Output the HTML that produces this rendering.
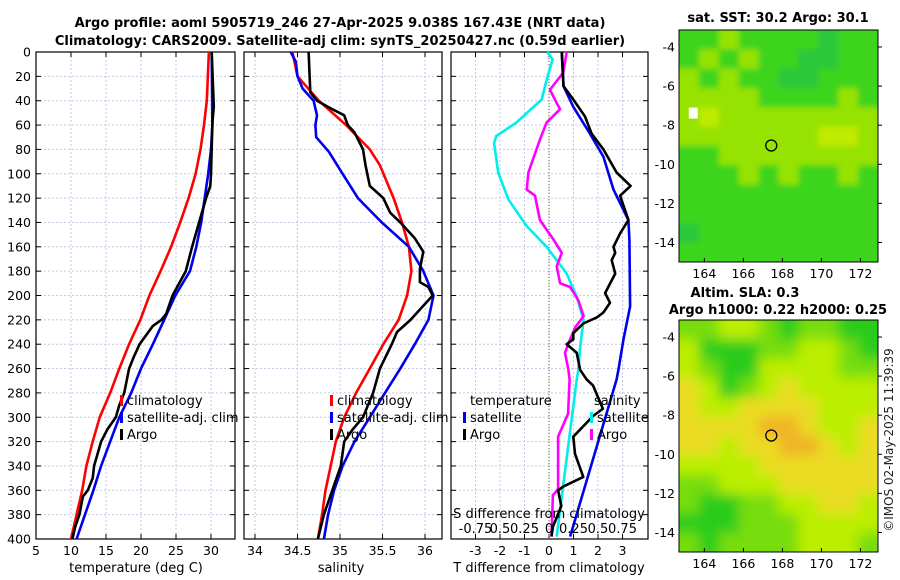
<!DOCTYPE html>
<html><head><meta charset="utf-8"><style>
body{margin:0;background:#fff}
svg{display:block;font-family:"DejaVu Sans","Liberation Sans",sans-serif}
</style></head><body>
<svg id="fig" width="900" height="580" viewBox="0 0 900 580" xmlns="http://www.w3.org/2000/svg">
<text x="340" y="27" text-anchor="middle" font-size="13" font-weight="bold">Argo profile: aoml 5905719_246 27-Apr-2025 9.038S 167.43E (NRT data)</text>
<text x="340" y="45" text-anchor="middle" font-size="13" font-weight="bold">Climatology: CARS2009. Satellite-adj clim: synTS_20250427.nc (0.59d earlier)</text>
<text x="778" y="22" text-anchor="middle" font-size="13" font-weight="bold">sat. SST: 30.2 Argo: 30.1</text>
<text x="745" y="297" text-anchor="middle" font-size="13" font-weight="bold">Altim. SLA: 0.3</text>
<text x="778" y="314" text-anchor="middle" font-size="13" font-weight="bold">Argo h1000: 0.22 h2000: 0.25</text>
<text transform="translate(893,440) rotate(-90)" text-anchor="middle" font-size="12" fill="#222">©IMOS 02-May-2025 11:39:39</text>
<g id="layer"></g>
</svg>
<script>
// ---------- data ----------
const depthTicks = [0,20,40,60,80,100,120,140,160,180,200,220,240,260,280,300,320,340,360,380,400];
const tTicks = [5,10,15,20,25,30];
const sTicks = [34,34.5,35,35.5,36];
const sTickLabels = ["34","34.5","35","35.5","36"];
const dTicks = [-3,-2,-1,0,1,2,3];
const sdTickLabels = ["-0.75","0.5","0.25","0","0.25","0.5","0.75"];

const tClimP = [0,40,60,80,100,120,140,160,180,200,220,240,260,280,300,320,340,360,380,400];
const tClimV = [29.7,29.4,29.0,28.5,27.8,26.8,25.6,24.3,22.8,21.2,19.9,18.3,16.9,15.6,14.1,13.1,12.2,11.6,10.8,10.0];
const tSatP = [0,60,80,100,120,140,160,180,200,220,240,260,280,300,320,340,360,380,400];
const tSatV = [30.1,30.2,30.0,29.6,29.1,28.6,27.9,27.0,24.9,23.3,21.7,20.0,18.6,16.9,15.6,14.3,13.2,12.0,10.8];
const tArgoP = [0,45,58,100,110,120,140,160,180,200,215,220,225,240,250,260,280,290,300,310,320,340,350,360,365,380,390,400];
const tArgoV = [30.1,30.4,30.2,30.0,29.9,29.3,28.3,27.3,26.4,24.5,23.6,22.9,21.7,19.8,19.0,18.3,17.6,16.9,16.4,15.2,14.3,13.3,13.1,12.4,11.7,11.2,10.6,10.2];

const sClimP = [0,20,40,60,80,93,120,140,160,180,200,220,240,260,280,300,320,340,360,380,400];
const sClimV = [34.44,34.50,34.75,35.07,35.35,35.47,35.63,35.73,35.81,35.84,35.79,35.69,35.51,35.35,35.19,35.05,34.95,34.89,34.83,34.79,34.74];
const sSatP = [0,8,20,30,40,52,60,70,82,100,120,140,160,180,200,220,240,260,280,300,320,340,360,380,400];
const sSatV = [34.42,34.48,34.50,34.56,34.69,34.73,34.71,34.72,34.87,35.03,35.21,35.49,35.81,35.98,36.10,36.04,35.88,35.71,35.53,35.35,35.17,35.03,34.93,34.86,34.81];
const sArgoP = [0,33,40,47,52,60,66,80,93,110,120,132,140,153,164,178,189,193,200,220,230,240,260,280,300,310,320,340,360,370,380,400];
const sArgoV = [34.63,34.65,34.73,34.91,35.05,35.09,35.17,35.27,35.30,35.35,35.51,35.59,35.71,35.88,35.98,35.94,35.94,36.04,36.09,35.83,35.67,35.61,35.47,35.39,35.27,35.15,35.05,35.01,34.91,34.86,34.81,34.74];

const dTSatP = [0,28,45,67,86,113,138,154,209,236,261,269,398];
const dTSatV = [0.52,0.59,0.99,1.67,2.22,2.63,3.24,3.28,3.31,3.04,2.83,2.76,0.86];
const dTArgoP = [0,28,39,53,67,80,99,110,118,138,149,160,165,171,182,198,206,214,218,223,231,236,240,247,261,269,274,293,299,316,330,349,357,360,373,390,398];
const dTArgoV = [0.52,0.59,0.99,1.47,1.74,2.22,2.76,3.33,2.9,3.24,2.9,2.63,2.7,2.56,2.7,2.29,2.49,2.22,1.95,1.4,0.99,0.99,0.72,1.13,1.27,1.54,1.8,2.2,1.8,0.99,1.06,1.4,0.58,0.37,0.5,0.16,0.1];
const dSSatP = [0,6,23,39,58,69,75,99,121,143,160,182,201,220,242,261,269,398];
const dSSatV = [-0.018,0.038,-0.025,-0.075,-0.333,-0.538,-0.56,-0.518,-0.415,-0.228,-0.025,0.18,0.283,0.353,0.318,0.3,0.283,0.078];
const dSArgoP = [0,17,31,42,47,58,72,99,113,118,138,154,165,176,190,193,204,217,226,236,247,261,269,297,316,359,364,398];
const dSArgoV = [0.18,0.145,0.01,0.078,0.113,-0.025,-0.093,-0.21,-0.228,-0.143,-0.093,0.045,0.13,0.078,0.113,0.215,0.3,0.353,0.268,0.215,0.163,0.198,0.21,0.195,0.093,0.093,0.04,0.025];

const lonTicks = [164,166,168,170,172];
const latTicks = [-4,-6,-8,-10,-12,-14];
const argoLon = 167.43, argoLat = -9.038;
const sstGrid = [
 [1,1,2,1,1,1,1,0,1,1],[1,2,1,2,1,1,0,0,1,1],[2,1,2,1,1,0,0,1,1,1],[2,2,2,2,1,1,1,1,2,1],
 [2,3,2,2,2,2,2,2,2,2],[2,2,2,2,2,2,2,3,3,2],[1,1,2,2,2,2,2,2,2,2],[1,1,1,2,1,2,1,1,2,1],
 [1,1,1,1,1,1,1,1,1,1],[1,1,1,1,1,1,1,1,1,1],[0,1,1,1,1,1,1,1,1,1],[1,1,1,1,1,1,1,1,1,1]];
const slaGrid = [
 [1,1,2,2,1,0,1,1,0,0],[2,0,0,0,1,1,2,2,1,0],[2,1,0,0,2,2,2,2,1,1],[3,2,0,1,2,3,2,2,2,2],
 [3,2,2,3,3,3,3,2,2,2],[3,3,3,3,4,4,3,2,2,3],[3,3,2,3,3,4,4,3,2,3],[2,2,2,2,3,3,3,3,3,3],
 [1,1,2,2,2,3,3,3,3,3],[1,0,0,1,1,2,2,3,3,2],[0,0,0,1,1,1,2,2,2,2],[1,0,1,1,1,1,2,2,2,1]];

// ---------- drawing ----------
const NS="http://www.w3.org/2000/svg";
const layer=document.getElementById('layer');
function mk(tag,attrs,parent){const e=document.createElementNS(NS,tag);for(const k in attrs)e.setAttribute(k,attrs[k]);(parent||layer).appendChild(e);return e;}
const Y0=52,Y1=539;
const yP=p=>Y0+p*(Y1-Y0)/400;

function panel(name,x0,x1,dmin,dmax,ticks,labels,showY){
  const xs=v=>x0+(v-dmin)/(dmax-dmin)*(x1-x0);
  const g=mk('g',{});
  
  
  depthTicks.forEach(p=>{
    const l=mk('line',{x1:x0,x2:x1,y1:yP(p),y2:yP(p),stroke:'#c4c8e4','stroke-width':1,'stroke-dasharray':'2,2'},g);
    
    
    mk('line',{x1:x0,x2:x0+5,y1:yP(p),y2:yP(p),stroke:'#000'},g);
    mk('line',{x1:x1-5,x2:x1,y1:yP(p),y2:yP(p),stroke:'#000'},g);
    if(showY){const t=mk('text',{x:x0-5,y:yP(p)+4.5,'text-anchor':'end','font-size':12.5},g);t.textContent=p;
      }
  });
  ticks.forEach((v,i)=>{
    const X=xs(v);
    const l=mk('line',{x1:X,x2:X,y1:Y0,y2:Y1,stroke:'#c4c8e4','stroke-width':1,'stroke-dasharray':'2,2'},g);
    
    
    mk('line',{x1:X,x2:X,y1:Y1,y2:Y1-5,stroke:'#000'},g);
    mk('line',{x1:X,x2:X,y1:Y0,y2:Y0+5,stroke:'#000'},g);
    const t=mk('text',{x:X,y:555,'text-anchor':'middle','font-size':12.5},g);t.textContent=labels[i];
    
  });
  const r=mk('rect',{x:x0,y:Y0,width:x1-x0,height:Y1-Y0,fill:'none',stroke:'#000','stroke-width':1.2},g);
  
  
  return {xs,g};
}
function line(ax,P,V,color,name,scale){
  const pts=P.map((p,i)=>ax.xs(V[i]*(scale||1)).toFixed(1)+','+yP(p).toFixed(1)).join(' ');
  const l=mk('polyline',{points:pts,fill:'none',stroke:color,'stroke-width':2.6,'stroke-linejoin':'round'},ax.g);
  
  
}
function txt(x,y,s,name,size,anchor,g,extra){
  const t=mk('text',Object.assign({x:x,y:y,'font-size':size||13,'text-anchor':anchor||'start'},extra||{}),g);t.textContent=s;
  
  
  return t;
}
function legendItem(x,y,color,label,name,g){
  const m=mk('rect',{x:x,y:y-10,width:3,height:11,fill:color},g);
  
  
  txt(x+7,y,label,name,13,'start',g);
}

// Panel 1 temperature
const p1=panel('temperature-panel',36,235,5,5+199/7,tTicks,tTicks.map(String),true);
line(p1,tClimP,tClimV,'#ff0000','temperature-climatology-line');
line(p1,tSatP,tSatV,'#0000ee','temperature-satellite-line');
line(p1,tArgoP,tArgoV,'#000','temperature-argo-line');
legendItem(120,405,'#ff0000','climatology','legend-climatology',p1.g);
legendItem(120,422,'#0000ee','satellite-adj. clim','legend-satellite',p1.g);
legendItem(120,439,'#000','Argo','legend-argo',p1.g);
txt(136,572,'temperature (deg C)','temperature-axis-title',13,'middle',p1.g);

// Panel 2 salinity
const p2=panel('salinity-panel',244,442,34-11/85,34+187/85,sTicks,sTickLabels,false);
line(p2,sClimP,sClimV,'#ff0000','salinity-climatology-line');
line(p2,sSatP,sSatV,'#0000ee','salinity-satellite-line');
line(p2,sArgoP,sArgoV,'#000','salinity-argo-line');
legendItem(330,405,'#ff0000','climatology','legend-climatology-2',p2.g);
legendItem(330,422,'#0000ee','satellite-adj. clim','legend-satellite-2',p2.g);
legendItem(330,439,'#000','Argo','legend-argo-2',p2.g);
txt(341,572,'salinity','salinity-axis-title',13,'middle',p2.g);

// Panel 3 differences
const p3=panel('difference-panel',451,648,-4,4.04,dTicks,dTicks.map(String),false);
const zl=mk('line',{x1:p3.xs(0),x2:p3.xs(0),y1:Y0,y2:Y1,stroke:'#556b2f','stroke-width':1,'stroke-dasharray':'1,2'},p3.g);


line(p3,dSSatP,dSSatV,'#00eeee','salinity-satellite-diff-line',4);
line(p3,dSArgoP,dSArgoV,'#ff00ff','salinity-argo-diff-line',4);
line(p3,dTSatP,dTSatV,'#0000ee','temperature-satellite-diff-line');
line(p3,dTArgoP,dTArgoV,'#000','temperature-argo-diff-line');
txt(470,405,'temperature','legend-temperature-header',13,'start',p3.g);
legendItem(463,422,'#0000ee','satellite','legend-temp-satellite',p3.g);
legendItem(463,439,'#000','Argo','legend-temp-argo',p3.g);
txt(594,405,'salinity','legend-salinity-header',13,'start',p3.g);
legendItem(590,422,'#00eeee','satellite','legend-sal-satellite',p3.g);
legendItem(590,439,'#ff00ff','Argo','legend-sal-argo',p3.g);
txt(549,518,'S difference from climatology','s-axis-title',13,'middle',p3.g);
dTicks.forEach((v,i)=>txt(p3.xs(v),533,sdTickLabels[i],'s-tick-label',13,'middle',p3.g));
txt(549,572,'T difference from climatology','t-diff-axis-title',13,'middle',p3.g);

// Maps
const MX0=679,MX1=878,LON0=162.7,LON1=172.9,LATT=-3.13,LATB=-15.0;
function map(name,yTop,grid,colors,blur){
  const yB=yTop+232;
  const lx=v=>MX0+(v-LON0)/(LON1-LON0)*(MX1-MX0);
  const ly=v=>yTop+(v-LATT)/(LATB-LATT)*(yB-yTop);
  const g=mk('g',{});
  
  
  const cid='clip-'+name;
  const cp=mk('clipPath',{id:cid},g);mk('rect',{x:MX0,y:yTop,width:MX1-MX0,height:232},cp);
  const cells=mk('g',{'clip-path':'url(#'+cid+')'},g);
  if(blur){const f=mk('filter',{id:'b-'+name,x:'-0.2',y:'-0.2',width:'1.4',height:'1.4'},g);mk('feGaussianBlur',{stdDeviation:blur},f);}
  const inner=mk('g',blur?{filter:'url(#b-'+name+')'}:{},cells);
  const rows=grid.length,cols=grid[0].length;
  const cw=(MX1-MX0)/cols, ch=232/rows;
  grid.forEach((row,r)=>row.forEach((v,c)=>{
    const pad=20;
    const x=MX0+c*cw-(c==0?pad:0), y=yTop+r*ch-(r==0?pad:0);
    const w=cw+1+(c==0||c==cols-1?pad:0), h=ch+1+(r==0||r==rows-1?pad:0);
    const e=mk('rect',{x:x,y:y,width:w,height:h,fill:colors[v]},inner);
    
    
  }));
  const ci=mk('circle',{cx:lx(argoLon),cy:ly(argoLat),r:5.5,fill:'none',stroke:'#000','stroke-width':1.3},g);
  
  
  const fr=mk('rect',{x:MX0,y:yTop,width:MX1-MX0,height:232,fill:'none',stroke:'#000','stroke-width':1},g);
  
  
  lonTicks.forEach(v=>{mk('line',{x1:lx(v),x2:lx(v),y1:yB,y2:yB-4,stroke:'#000'},g);
    txt(lx(v),yB+16,String(v),'lon-tick-label',12.5,'middle',g);});
  latTicks.forEach(v=>{mk('line',{x1:MX1,x2:MX1+4,y1:ly(v),y2:ly(v),stroke:'#000'},g);
    txt(MX0-4,ly(v)+4.5,String(v),'lat-tick-label',12.5,'end',g);});
  return {lx,ly,g};
}
const m1=map('sst-map',30,sstGrid,['#2cc83a','#3cd41a','#96e202','#c0ea00'],3);
const wp=mk('rect',{x:m1.lx(163.2),y:m1.ly(-7.1),width:9,height:11,fill:'#fff'},m1.g);


map('sla-map',320,slaGrid,['#2ccc1c','#77dd08','#bbee00','#eadc20','#f0b428'],6);
</script>
</body></html>
